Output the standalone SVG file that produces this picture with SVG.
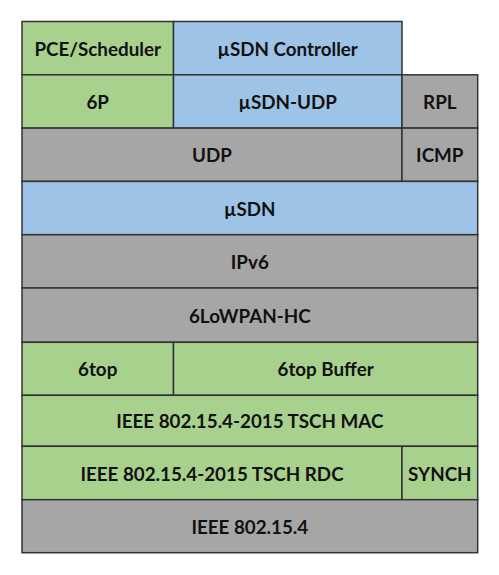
<svg xmlns="http://www.w3.org/2000/svg" width="499" height="575" viewBox="0 0 499 575">
<style>
rect{stroke:#333;stroke-width:1.5}
.g{fill:#A9D18E}.b{fill:#9DC3E6}.y{fill:#A6A6A6}
text{font-family:Lato,"Liberation Sans",sans-serif;font-weight:bold;font-size:18.8px;fill:#111;text-anchor:middle;dominant-baseline:central}
</style>
<rect width="499" height="575" fill="#fff" style="stroke:none"/>
<g id="pce"><rect class="g" x="22" y="21.5" width="151.5" height="53.3"/><text x="97.7" y="48">PCE/Scheduler</text></g>
<g id="controller"><rect class="b" x="173.5" y="21.5" width="228.5" height="53.3"/><text x="287.7" y="48">µSDN Controller</text></g>
<g id="sixp"><rect class="g" x="22" y="74.8" width="151.5" height="53.3"/><text x="97.7" y="101.4">6P</text></g>
<g id="usdn-udp"><rect class="b" x="173.5" y="74.8" width="228.5" height="53.3"/><text x="287.7" y="101.4">µSDN-UDP</text></g>
<g id="rpl"><rect class="y" x="402" y="74.8" width="75.7" height="53.3"/><text x="439.8" y="101.4">RPL</text></g>
<g id="udp"><rect class="y" x="22" y="128.1" width="380" height="53.3"/><text x="212" y="154.7">UDP</text></g>
<g id="icmp"><rect class="y" x="402" y="128.1" width="75.7" height="53.3"/><text x="439.8" y="154.7">ICMP</text></g>
<g id="usdn"><rect class="b" x="22" y="181.4" width="455.7" height="53.3"/><text x="249.8" y="208">µSDN</text></g>
<g id="ipv6"><rect class="y" x="22" y="234.7" width="455.7" height="53.3"/><text x="249.8" y="261.3">IPv6</text></g>
<g id="lowpan"><rect class="y" x="22" y="288" width="455.7" height="54.3"/><text x="249.8" y="315.1">6LoWPAN-HC</text></g>
<g id="sixtop"><rect class="g" x="22" y="342.3" width="151.5" height="53"/><text x="97.7" y="368.8">6top</text></g>
<g id="buffer"><rect class="g" x="173.5" y="342.3" width="304.2" height="53"/><text x="325.6" y="368.8">6top Buffer</text></g>
<g id="mac"><rect class="g" x="22" y="395.3" width="455.7" height="51"/><text x="249.8" y="420.8">IEEE 802.15.4-2015 TSCH MAC</text></g>
<g id="rdc"><rect class="g" x="22" y="446.3" width="380" height="53.4"/><text x="212" y="473">IEEE 802.15.4-2015 TSCH RDC</text></g>
<g id="synch"><rect class="g" x="402" y="446.3" width="75.7" height="53.4"/><text x="439.8" y="473">SYNCH</text></g>
<g id="phy"><rect class="y" x="22" y="499.7" width="455.7" height="53"/><text x="249.8" y="526.2">IEEE 802.15.4</text></g>
<g id="connectors"></g>
</svg>
